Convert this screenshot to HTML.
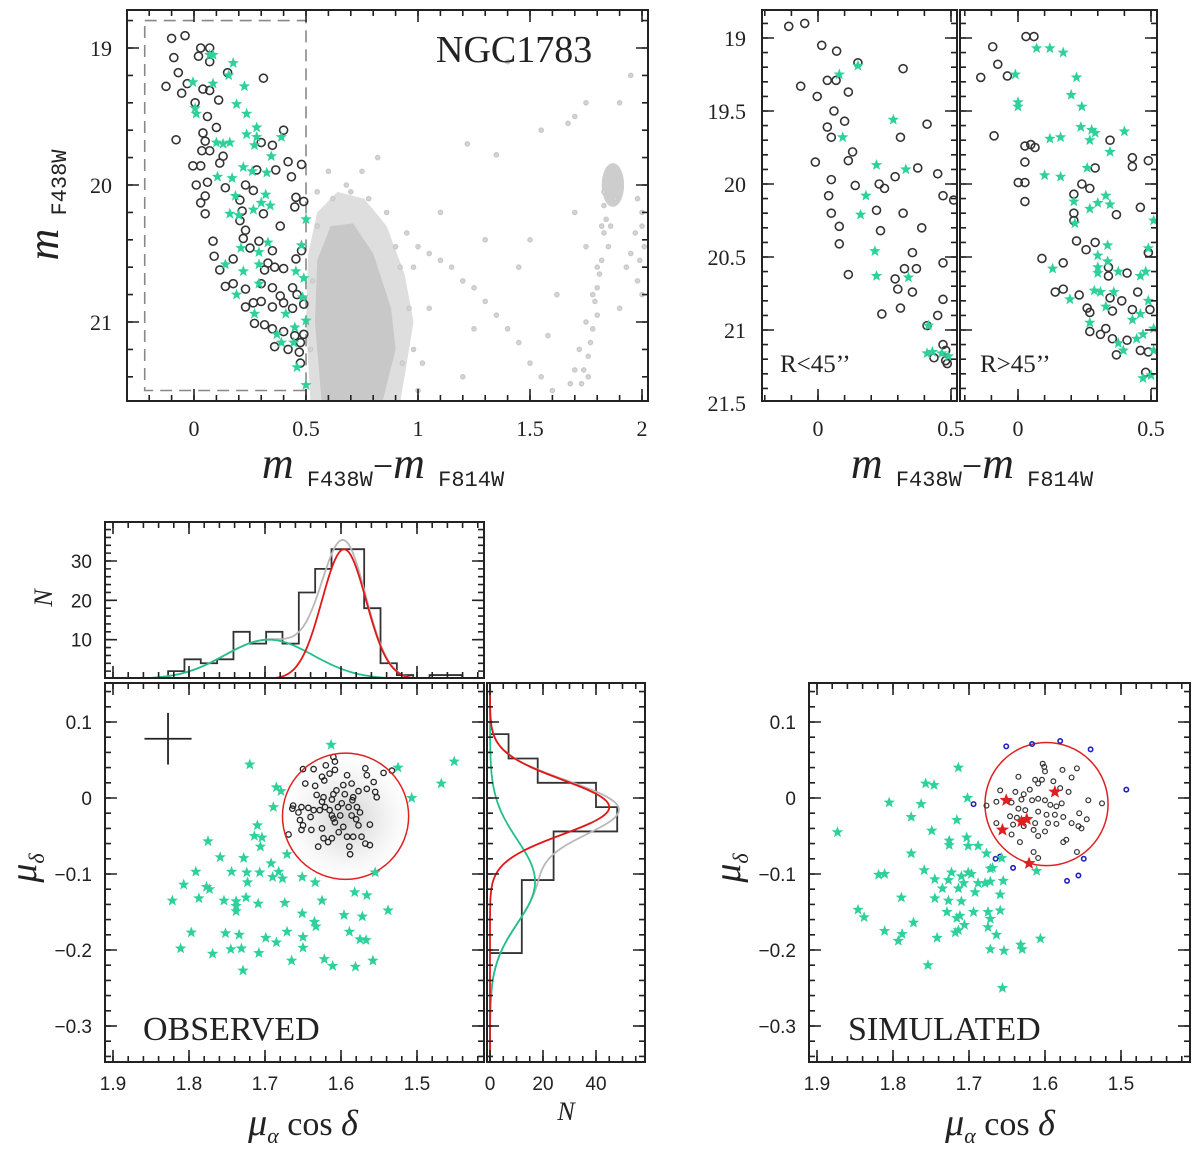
<!DOCTYPE html>
<html><head><meta charset="utf-8"><style>
html,body{margin:0;padding:0;background:#fff;}
svg{display:block;}
.ts{font-family:"Liberation Serif",serif;font-size:22px;fill:#222;}
.tb{font-family:"Liberation Sans",sans-serif;font-size:19px;fill:#222;}
.lab{font-family:"Liberation Serif",serif;fill:#222;}
</style></head><body>
<svg id="fig" width="1200" height="1149" viewBox="0 0 1200 1149" xmlns="http://www.w3.org/2000/svg">
<g id="g1"></g>
<g id="g2"></g>
<g id="g3"></g>
<g id="gh"></g>
<g id="gm"></g>
<g id="gr"></g>
<g id="gs"></g>
<g id="gt">
<text class="lab" x="436" y="62" font-size="38">NGC1783</text>
<text class="lab" transform="translate(58,205) rotate(-90)" text-anchor="middle"><tspan font-size="44" font-style="italic">m</tspan><tspan font-family="Liberation Mono" font-size="22" dy="8"> F438W</tspan></text>
<text class="lab" x="383" y="478" text-anchor="middle"><tspan font-size="44" font-style="italic">m</tspan><tspan font-family="Liberation Mono" font-size="22" dy="8"> F438W</tspan><tspan font-size="36" dy="-8">−</tspan><tspan font-size="44" font-style="italic">m</tspan><tspan font-family="Liberation Mono" font-size="22" dy="8"> F814W</tspan></text>
<text class="lab" x="972" y="478" text-anchor="middle"><tspan font-size="44" font-style="italic">m</tspan><tspan font-family="Liberation Mono" font-size="22" dy="8"> F438W</tspan><tspan font-size="36" dy="-8">−</tspan><tspan font-size="44" font-style="italic">m</tspan><tspan font-family="Liberation Mono" font-size="22" dy="8"> F814W</tspan></text>
<text class="lab" x="780" y="372" font-size="25">R&lt;45’’</text>
<text class="lab" x="980" y="372" font-size="25">R&gt;45’’</text>
<text class="lab" transform="translate(52,598) rotate(-90)" text-anchor="middle" font-size="26" font-style="italic">N</text>
<text class="lab" transform="translate(36,868) rotate(-90)" text-anchor="middle"><tspan font-size="38" font-style="italic">μ</tspan><tspan font-size="22" font-style="italic" dy="8">δ</tspan></text>
<text class="lab" transform="translate(740,868) rotate(-90)" text-anchor="middle"><tspan font-size="38" font-style="italic">μ</tspan><tspan font-size="22" font-style="italic" dy="8">δ</tspan></text>
<text class="lab" x="303" y="1135" text-anchor="middle"><tspan font-size="38" font-style="italic">μ</tspan><tspan font-size="22" font-style="italic" dy="8">α</tspan><tspan font-size="34" dy="-8">  cos  </tspan><tspan font-size="36" font-style="italic">δ</tspan></text>
<text class="lab" x="1000" y="1135" text-anchor="middle"><tspan font-size="38" font-style="italic">μ</tspan><tspan font-size="22" font-style="italic" dy="8">α</tspan><tspan font-size="34" dy="-8">  cos  </tspan><tspan font-size="36" font-style="italic">δ</tspan></text>
<text class="lab" x="566" y="1120" text-anchor="middle" font-size="26" font-style="italic">N</text>
<text class="lab" x="143" y="1040" font-size="34">OBSERVED</text>
<text class="lab" x="848" y="1040" font-size="34">SIMULATED</text>
</g>
</svg>
<script>
// ---------- DATA ----------
const cmdCircles=[[-0.10,18.93],[-0.04,18.91],[-0.09,19.07],[0.03,19.0],[0.07,19.0],[0.02,19.06],[0.07,19.10],[-0.07,19.18],[-0.125,19.28],[-0.055,19.33],[-0.03,19.26],[0.04,19.30],[0.07,19.31],[0.11,19.38],[0.15,19.18],[0.31,19.22],[0.005,19.40],[0.06,19.50],[0.10,19.58],[0.04,19.62],[-0.08,19.67],[0.05,19.68],[0.035,19.75],[0.07,19.75],[0.13,19.79],[0.115,19.84],[-0.005,19.86],[0.03,19.86],[0.01,20.0],[0.06,19.98],[0.14,20.02],[0.23,20.0],[0.265,20.04],[0.30,19.69],[0.35,19.71],[0.40,19.60],[0.28,19.89],[0.365,19.89],[0.42,19.83],[0.435,19.94],[0.48,19.85],[0.05,20.08],[0.03,20.13],[0.05,20.21],[0.205,20.11],[0.215,20.19],[0.205,20.26],[0.31,20.21],[0.385,20.30],[0.455,20.09],[0.49,20.12],[0.45,20.16],[0.23,20.33],[0.22,20.39],[0.085,20.41],[0.09,20.52],[0.115,20.62],[0.175,20.54],[0.25,20.46],[0.29,20.41],[0.35,20.48],[0.33,20.57],[0.36,20.60],[0.315,20.62],[0.40,20.61],[0.48,20.48],[0.455,20.54],[0.14,20.74],[0.175,20.72],[0.23,20.76],[0.30,20.72],[0.35,20.75],[0.44,20.75],[0.46,20.80],[0.23,20.89],[0.265,20.86],[0.30,20.85],[0.35,20.89],[0.385,20.81],[0.40,20.86],[0.44,20.90],[0.49,20.87],[0.27,21.01],[0.315,21.02],[0.35,21.05],[0.40,21.07],[0.36,21.18],[0.42,21.20],[0.45,21.10],[0.475,21.15],[0.47,21.22],[0.475,21.30],[0.49,21.09]];
const cmdStars=[[0.07,19.05],[0.085,19.05],[0.175,19.11],[0.155,19.20],[-0.005,19.25],[0.085,19.26],[0.225,19.28],[0.19,19.41],[0.005,19.44],[0.01,19.48],[0.235,19.48],[0.28,19.58],[0.235,19.63],[0.28,19.65],[0.27,19.71],[0.10,19.69],[0.13,19.70],[0.16,19.69],[0.39,19.65],[0.345,19.79],[0.22,19.87],[0.26,19.90],[0.325,19.91],[0.105,19.94],[0.17,19.95],[0.185,20.08],[0.32,20.07],[0.30,20.13],[0.34,20.15],[0.265,20.18],[0.16,20.21],[0.20,20.22],[0.50,20.25],[0.33,20.42],[0.21,20.46],[0.29,20.49],[0.48,20.44],[0.14,20.58],[0.22,20.63],[0.29,20.58],[0.455,20.63],[0.49,20.68],[0.29,20.72],[0.19,20.80],[0.485,20.82],[0.27,20.94],[0.41,20.94],[0.50,20.99],[0.37,21.09],[0.39,21.15],[0.45,21.04],[0.445,21.15],[0.46,21.33],[0.50,21.46]];
const fieldPts=[[0.95,20.35],[1.0,20.45],[1.05,20.5],[1.1,20.55],[1.15,20.6],[1.2,20.7],[1.25,20.75],[1.3,20.85],[1.35,20.95],[1.4,21.05],[1.45,21.15],[1.5,21.3],[1.55,21.4],[1.6,21.5],[1.22,19.7],[1.35,19.78],[1.4,19.1],[1.55,19.6],[1.67,19.55],[1.7,19.5],[1.75,19.4],[1.9,19.4],[1.95,19.2],[0.82,19.8],[0.75,19.9],[0.68,20.0],[0.6,19.9],[1.5,20.4],[1.7,20.2],[1.75,20.45],[1.8,20.6],[1.78,20.8],[1.75,21.0],[1.72,21.2],[1.7,21.35],[1.68,21.45],[1.82,20.3],[1.95,20.5],[2.0,20.3],[1.98,20.7],[1.9,20.9],[1.93,20.6],[1.62,20.8],[1.58,21.1],[1.3,20.4],[1.1,20.2],[1.05,20.9],[0.98,21.2],[1.0,21.5],[1.2,21.4],[1.25,21.05],[1.45,20.6],[1.84,20.25],[1.83,20.35],[1.85,20.45],[1.82,20.55],[1.81,20.65],[1.8,20.75],[1.79,20.85],[1.8,20.95],[1.78,21.05],[1.77,21.15],[1.76,21.25],[1.74,21.35],[1.73,21.45],[1.76,21.4],[1.98,20.1],[2.0,20.2],[1.97,20.35],[2.01,20.45],[1.99,20.55],[2.0,20.8],[0.92,20.6],[0.96,20.9],[0.93,21.3],[0.55,20.3],[0.53,20.7],[0.52,21.2],[1.83,20.15],[1.86,20.3],[1.88,20.1],[1.83,20.05],[0.62,20.1],[0.7,20.05],[0.78,20.1],[0.86,20.2],[0.55,20.05],[0.9,20.45],[0.98,20.6],[1.02,21.3]];
const msOuter=[[0.52,21.59],[0.5,21.0],[0.51,20.5],[0.55,20.2],[0.64,20.05],[0.76,20.1],[0.86,20.3],[0.94,20.65],[0.98,21.0],[0.95,21.3],[0.92,21.59]];
const msCore=[[0.57,21.59],[0.54,21.0],[0.55,20.55],[0.61,20.3],[0.71,20.28],[0.8,20.5],[0.88,20.9],[0.9,21.2],[0.84,21.59]];
const clump=[1.87,20.0,0.05,0.16];
const dashBox=[-0.22,18.8,0.5,21.5];
const inCircles=[[-0.11,18.92],[-0.05,18.90],[0.014,19.05],[0.07,19.09],[0.15,19.17],[0.32,19.21],[-0.065,19.33],[0.035,19.29],[0.068,19.29],[0.114,19.37],[-0.003,19.40],[0.06,19.50],[0.10,19.57],[0.035,19.61],[0.05,19.68],[0.31,19.68],[0.41,19.59],[0.13,19.78],[0.114,19.84],[-0.01,19.85],[0.05,19.97],[0.14,20.01],[0.23,20.0],[0.25,20.03],[0.29,19.95],[0.375,19.89],[0.45,19.93],[0.47,20.08],[0.51,20.11],[0.04,20.08],[0.05,20.20],[0.08,20.29],[0.08,20.41],[0.22,20.18],[0.235,20.32],[0.32,20.20],[0.39,20.30],[0.355,20.47],[0.325,20.58],[0.37,20.58],[0.29,20.65],[0.30,20.72],[0.355,20.74],[0.31,20.85],[0.24,20.89],[0.114,20.62],[0.47,20.54],[0.47,20.79],[0.45,20.90],[0.41,20.97],[0.47,21.10],[0.48,21.14],[0.436,21.19],[0.48,21.21],[0.486,21.23]];
const inStars=[[0.08,19.25],[0.15,19.19],[0.093,19.68],[0.283,19.56],[0.22,19.87],[0.33,19.90],[0.18,20.08],[0.16,20.21],[0.214,20.46],[0.22,20.63],[0.34,20.64],[0.415,20.97],[0.41,21.16],[0.43,21.15],[0.465,21.16],[0.49,21.18]];
const outCircles=[[0.03,18.99],[0.06,18.99],[-0.095,19.06],[-0.076,19.18],[-0.04,19.26],[-0.14,19.27],[-0.09,19.67],[0.026,19.74],[0.048,19.73],[0.064,19.75],[0.026,19.85],[0.001,19.99],[0.026,19.99],[0.026,20.12],[0.346,19.70],[0.43,19.82],[0.43,19.88],[0.49,19.84],[0.29,19.89],[0.24,20.0],[0.27,20.03],[0.21,20.07],[0.21,20.20],[0.21,20.25],[0.37,20.21],[0.46,20.16],[0.22,20.39],[0.29,20.40],[0.256,20.45],[0.49,20.47],[0.09,20.51],[0.17,20.54],[0.34,20.57],[0.34,20.63],[0.41,20.61],[0.14,20.74],[0.17,20.72],[0.23,20.76],[0.346,20.78],[0.39,20.80],[0.45,20.74],[0.496,20.86],[0.26,20.85],[0.27,20.88],[0.355,20.87],[0.43,20.86],[0.27,21.01],[0.31,21.03],[0.33,20.99],[0.355,21.06],[0.41,21.07],[0.46,21.14],[0.49,21.15],[0.37,21.17],[0.48,21.29]];
const outStars=[[0.07,19.07],[0.12,19.07],[0.17,19.10],[-0.01,19.25],[0.22,19.27],[0.20,19.39],[0.24,19.47],[0.0,19.44],[0.0,19.47],[0.236,19.61],[0.277,19.63],[0.29,19.65],[0.27,19.70],[0.12,19.69],[0.16,19.68],[0.40,19.64],[0.346,19.78],[0.26,19.89],[0.10,19.94],[0.16,19.95],[0.33,20.08],[0.30,20.13],[0.346,20.14],[0.27,20.17],[0.21,20.12],[0.214,20.27],[0.51,20.25],[0.337,20.42],[0.49,20.44],[0.30,20.49],[0.337,20.53],[0.30,20.57],[0.30,20.61],[0.377,20.60],[0.46,20.63],[0.48,20.60],[0.287,20.73],[0.31,20.74],[0.36,20.74],[0.13,20.58],[0.195,20.79],[0.49,20.80],[0.33,20.84],[0.46,20.89],[0.43,20.93],[0.27,20.95],[0.51,20.99],[0.377,21.09],[0.396,21.14],[0.446,21.06],[0.47,21.03],[0.47,21.33],[0.50,21.31],[0.51,21.14]];
// histograms
const raBinStart=1.8275, raBinWidth=0.0215;
const raCounts=[2,5,4,5,12,9,12,9,22,28,33,33,18,4,1,0,1,1];
const raFitGreen=[10,1.695,0.058];
const raFitRed=[33,1.596,0.029];
const decBinStart=0.084, decBinWidth=0.032;
const decCounts=[7,18,40,48,24,24,12,12,12];
const decFitRed=[45,-0.012,0.036];
const decFitGreen=[17,-0.11,0.055];
// observed PM
const obsCircle=[1.594,-0.024,0.083];
const errCross=[1.8276,0.078,0.031,0.034];
const obsStars=[[1.613,0.070],[1.720,0.044],[1.451,0.048],[1.525,0.040],[1.468,0.019],[1.507,0.0],[1.685,0.014],[1.679,0.009],[1.689,-0.012],[1.710,-0.036],[1.714,-0.050],[1.704,-0.052],[1.706,-0.064],[1.775,-0.057],[1.759,-0.078],[1.728,-0.079],[1.744,-0.097],[1.724,-0.098],[1.723,-0.111],[1.707,-0.098],[1.692,-0.086],[1.682,-0.097],[1.690,-0.104],[1.677,-0.106],[1.671,-0.074],[1.651,-0.104],[1.634,-0.111],[1.791,-0.097],[1.777,-0.117],[1.773,-0.120],[1.807,-0.114],[1.787,-0.132],[1.822,-0.135],[1.754,-0.135],[1.738,-0.136],[1.738,-0.142],[1.738,-0.149],[1.725,-0.131],[1.709,-0.139],[1.674,-0.138],[1.651,-0.152],[1.635,-0.163],[1.633,-0.169],[1.625,-0.135],[1.596,-0.154],[1.582,-0.124],[1.566,-0.128],[1.572,-0.156],[1.538,-0.148],[1.567,-0.187],[1.589,-0.176],[1.575,-0.186],[1.558,-0.214],[1.581,-0.222],[1.611,-0.221],[1.622,-0.212],[1.665,-0.214],[1.650,-0.197],[1.650,-0.183],[1.671,-0.176],[1.685,-0.190],[1.699,-0.184],[1.708,-0.204],[1.731,-0.198],[1.745,-0.199],[1.734,-0.180],[1.752,-0.178],[1.797,-0.177],[1.811,-0.198],[1.769,-0.205],[1.729,-0.227],[1.555,-0.098]];
const obsCircles=[[1.610,0.054],[1.608,0.048],[1.620,0.043],[1.636,0.038],[1.650,0.038],[1.608,0.037],[1.615,0.032],[1.625,0.028],[1.622,0.023],[1.647,0.019],[1.634,0.016],[1.568,0.039],[1.566,0.030],[1.544,0.033],[1.533,0.036],[1.557,0.021],[1.597,0.017],[1.586,0.019],[1.566,0.012],[1.555,0.008],[1.553,0.001],[1.577,0.009],[1.584,0.001],[1.606,0.010],[1.610,0.005],[1.612,-0.002],[1.623,0.001],[1.632,0.004],[1.625,-0.005],[1.621,-0.012],[1.636,-0.016],[1.643,-0.013],[1.652,-0.012],[1.663,-0.010],[1.664,-0.014],[1.656,-0.019],[1.640,-0.025],[1.628,-0.016],[1.615,-0.016],[1.612,-0.023],[1.601,-0.023],[1.599,-0.007],[1.590,-0.012],[1.585,-0.003],[1.579,-0.012],[1.575,-0.019],[1.586,-0.023],[1.608,-0.032],[1.610,-0.027],[1.654,-0.029],[1.650,-0.036],[1.652,-0.042],[1.625,-0.040],[1.597,-0.038],[1.577,-0.036],[1.562,-0.035],[1.623,-0.053],[1.612,-0.053],[1.592,-0.051],[1.584,-0.051],[1.573,-0.051],[1.562,-0.062],[1.568,-0.060],[1.589,-0.064],[1.588,-0.074],[1.630,-0.064],[1.669,-0.048],[1.639,-0.042],[1.617,-0.058],[1.595,0.005],[1.604,-0.012],[1.580,-0.028],[1.592,0.030],[1.603,-0.045]];
// simulated PM
const simCircle=[1.598,-0.008,0.081];
const simBlue=[[1.651,0.068],[1.617,0.071],[1.580,0.075],[1.540,0.064],[1.493,0.011],[1.694,-0.008],[1.665,-0.080],[1.659,-0.077],[1.642,-0.092],[1.571,-0.109],[1.556,-0.102],[1.549,-0.080]];
const simRed=[[1.651,-0.003],[1.656,-0.042],[1.631,-0.031],[1.624,-0.028],[1.587,0.008],[1.621,-0.086]];
const simStars=[[1.873,-0.045],[1.805,-0.006],[1.757,0.019],[1.746,0.017],[1.714,0.040],[1.763,-0.008],[1.702,0.000],[1.776,-0.025],[1.716,-0.029],[1.749,-0.043],[1.726,-0.056],[1.726,-0.062],[1.703,-0.052],[1.701,-0.063],[1.688,-0.063],[1.677,-0.073],[1.776,-0.073],[1.672,-0.093],[1.669,-0.092],[1.657,-0.079],[1.611,-0.096],[1.759,-0.095],[1.819,-0.101],[1.811,-0.100],[1.745,-0.107],[1.723,-0.098],[1.727,-0.108],[1.710,-0.103],[1.701,-0.098],[1.697,-0.100],[1.707,-0.112],[1.688,-0.112],[1.679,-0.112],[1.672,-0.110],[1.655,-0.109],[1.735,-0.119],[1.714,-0.119],[1.692,-0.124],[1.659,-0.127],[1.789,-0.131],[1.745,-0.132],[1.727,-0.135],[1.710,-0.136],[1.846,-0.147],[1.838,-0.157],[1.729,-0.150],[1.694,-0.150],[1.675,-0.150],[1.659,-0.148],[1.716,-0.158],[1.712,-0.155],[1.672,-0.159],[1.773,-0.164],[1.706,-0.167],[1.811,-0.175],[1.788,-0.179],[1.793,-0.188],[1.742,-0.184],[1.718,-0.177],[1.714,-0.174],[1.675,-0.170],[1.664,-0.180],[1.672,-0.199],[1.654,-0.201],[1.632,-0.193],[1.630,-0.199],[1.606,-0.185],[1.754,-0.220],[1.656,-0.250]];
const simCircles=[[1.603,0.045],[1.601,0.041],[1.600,0.035],[1.635,0.028],[1.613,0.024],[1.604,0.024],[1.577,0.037],[1.558,0.039],[1.565,0.027],[1.659,0.010],[1.639,0.008],[1.628,0.005],[1.620,0.011],[1.609,0.019],[1.589,0.022],[1.580,0.013],[1.569,0.008],[1.677,-0.010],[1.664,-0.005],[1.644,-0.006],[1.631,-0.002],[1.617,-0.003],[1.609,-0.001],[1.600,-0.003],[1.593,-0.009],[1.585,-0.011],[1.578,-0.007],[1.543,-0.003],[1.525,-0.007],[1.635,-0.014],[1.626,-0.016],[1.646,-0.024],[1.637,-0.026],[1.609,-0.018],[1.598,-0.022],[1.587,-0.022],[1.576,-0.025],[1.555,-0.020],[1.664,-0.033],[1.642,-0.035],[1.628,-0.037],[1.613,-0.033],[1.596,-0.033],[1.585,-0.034],[1.565,-0.033],[1.545,-0.028],[1.556,-0.037],[1.552,-0.040],[1.644,-0.048],[1.615,-0.042],[1.609,-0.050],[1.600,-0.044],[1.576,-0.058],[1.572,-0.055],[1.633,-0.058],[1.615,-0.071],[1.609,-0.079],[1.558,-0.071]];
// tick labels
const cmdXTicks=[0,0.5,1,1.5,2], cmdYTicks=[19,20,21];
const splitYTicks=[19,19.5,20,20.5,21,21.5], splitXTicks=[0,0.5];
const pmXTicks=[1.9,1.8,1.7,1.6,1.5], pmYTicks=[0.1,0,-0.1,-0.2,-0.3];
const histYTicks=[10,20,30], decHistXTicks=[0,20,40];

// ---------- HELPERS ----------
const NS='http://www.w3.org/2000/svg';
function lin(d0,p0,d1,p1){const k=(p1-p0)/(d1-d0);const f=function(v){return p0+(v-d0)*k;};f.inv=function(p){return d0+(p-p0)/k;};return f;}
function mk(tag,attrs,parent){const e=document.createElementNS(NS,tag);for(const k in attrs)e.setAttribute(k,String(attrs[k]));parent.appendChild(e);return e;}
// tick marks drawn as dashed strokes along each frame edge
function dashTicks(g,F,s,step,L,isX){
  const sp=Math.abs(s(step)-s(0));
  const w=1.6;
  const base=isX?F[0]:F[1];
  let off=(base-(s(0)-w/2))%sp; if(off<0)off+=sp;
  const sides=isX?[[F[0],F[3]-L/2,F[2],F[3]-L/2],[F[0],F[1]+L/2,F[2],F[1]+L/2]]:[[F[0]+L/2,F[1],F[0]+L/2,F[3]],[F[2]-L/2,F[1],F[2]-L/2,F[3]]];
  sides.forEach(sd=>{
    const e=mk('line',{x1:sd[0],y1:sd[1],x2:sd[2],y2:sd[3],stroke:'#222','stroke-width':L,'stroke-dasharray':w+' '+(sp-w),'stroke-dashoffset':off},g);
    
    
  });
}
function frame(g,F,sx,sy,xmaj,xmin,ymaj,ymin){
  const c=mk('clipPath',{id:'tc'+F[0]+'_'+F[1]},g);mk('rect',{x:F[0],y:F[1]+1,width:F[2]-F[0],height:F[3]-F[1]-2},c);
  const tg=mk('g',{'clip-path':'url(#tc'+F[0]+'_'+F[1]+')'},g);
  
  
  const cx=mk('clipPath',{id:'tx'+F[0]+'_'+F[1]},g);mk('rect',{x:F[0]+1,y:F[1],width:F[2]-F[0]-2,height:F[3]-F[1]},cx);
  const tgx=mk('g',{'clip-path':'url(#tx'+F[0]+'_'+F[1]+')'},g);
  
  
  dashTicks(tgx,F,sx,xmin,6,true);dashTicks(tgx,F,sx,xmaj,12,true);
  dashTicks(tg,F,sy,ymin,6,false);dashTicks(tg,F,sy,ymaj,12,false);
  const r=mk('rect',{x:F[0],y:F[1],width:F[2]-F[0],height:F[3]-F[1],fill:'none',stroke:'#222','stroke-width':2},g);
  
  
}
function starPath(cx,cy,R){let d='';for(let i=0;i<10;i++){const r=i%2?R*0.42:R;const a=-Math.PI/2+i*Math.PI/5;d+=(i?'L':'M')+(cx+r*Math.cos(a)).toFixed(1)+','+(cy+r*Math.sin(a)).toFixed(1);}return d+'Z';}
function stars(g,pts,sx,sy,R,col,name){const gg=mk('g',{fill:col},g);
  pts.forEach(p=>{const e=mk('path',{d:starPath(sx(p[0]),sy(p[1]),R)},gg);});}
function circles(g,pts,sx,sy,r,col,sw,name,fill){const gg=mk('g',{fill:fill||'none',stroke:col,'stroke-width':sw},g);
  pts.forEach(p=>{const e=mk('circle',{cx:sx(p[0]),cy:sy(p[1]),r:r},gg);});}
function label(g,x,y,txt,cls,anchor){const t=mk('text',{x:x,y:y,class:cls,'text-anchor':anchor},g);t.textContent=txt;}
function clip(g,F,id){const c=mk('clipPath',{id:id},g);mk('rect',{x:F[0],y:F[1],width:F[2]-F[0],height:F[3]-F[1]},c);const inner=mk('g',{'clip-path':'url(#'+id+')'},g);return inner;}
const gauss=(p,v)=>p[0]*Math.exp(-0.5*Math.pow((v-p[1])/p[2],2));
const fmt=v=>(Math.abs(v)<1e-9?'0':String(v).replace('-','−'));

// ---------- PANEL 1: CMD ----------
(function(){
 const g=document.getElementById('g1');const F=[127,10,648,401];
 const sx=lin(0,194,1,418), sy=lin(19,48,20,185);
 const a=clip(g,F,'c1');
 const poly=(arr,fill,name)=>{const e=mk('polygon',{points:arr.map(p=>sx(p[0])+','+sy(p[1])).join(' '),fill:fill},a);};
 poly(msOuter,'#dedede','main-sequence-halo');poly(msCore,'#c8c8c8','main-sequence-core');
 const cl=mk('ellipse',{cx:sx(clump[0]),cy:sy(clump[1]),rx:sx(clump[0]+clump[2])-sx(clump[0]),ry:sy(clump[1]+clump[3])-sy(clump[1]),fill:'#cdcdcd'},a);
 
 circles(a,fieldPts,sx,sy,2.2,'#c8c8c8',1.2,'field-stars','#d4d4d4');
 const db=mk('rect',{x:sx(dashBox[0]),y:sy(dashBox[1]),width:sx(dashBox[2])-sx(dashBox[0]),height:sy(dashBox[3])-sy(dashBox[1]),fill:'none',stroke:'#888','stroke-width':1.6,'stroke-dasharray':'12,7'},a);
 
 circles(a,cmdCircles,sx,sy,4,'#333',1.6,'cluster-stars-circles');
 stars(a,cmdStars,sx,sy,6,'#2fd19a','cluster-stars-green');
 frame(g,F,sx,sy,0.5,0.1,1,0.2);
 cmdXTicks.forEach(v=>label(g,sx(v),436,fmt(v),'ts','middle'));
 cmdYTicks.forEach(v=>label(g,112,sy(v)+8,fmt(v),'ts','end'));
})();
// ---------- PANELS 2/3 ----------
function split(id,F,x0px,cP,sP,clipId){
 const g=document.getElementById(id);
 const sx=lin(0,x0px,0.5,x0px+133), sy=lin(19,38,21,330);
 const a=clip(g,F,clipId);
 circles(a,cP,sx,sy,4,'#333',1.6,'circle-points');
 stars(a,sP,sx,sy,6,'#2fd19a','green-star-points');
 frame(g,F,sx,sy,0.5,0.1,0.5,0.1);
 splitXTicks.forEach(v=>label(g,sx(v),436,fmt(v),'ts','middle'));
 return sy;
}
const syS=split('g2',[762,10,957,401],818,inCircles,inStars,'c2');
split('g3',[960,10,1157,401],1018,outCircles,outStars,'c3');
splitYTicks.forEach(v=>label(document.getElementById('g2'),746,syS(v)+8,fmt(v),'ts','end'));

// ---------- BOTTOM LEFT ----------
const pmSx=lin(1.9,113,1.5,417), pmSy=lin(0,798,0.1,722);
(function(){
 const g=document.getElementById('gh');const F=[105,522,484,678];
 const sy=lin(0,679,30,561);
 const a=clip(g,F,'ch');
 let d='M'+pmSx(raBinStart)+','+sy(0);
 raCounts.forEach((c,i)=>{const x0=pmSx(raBinStart-i*raBinWidth),x1=pmSx(raBinStart-(i+1)*raBinWidth);d+='L'+x0+','+sy(c)+'L'+x1+','+sy(c);});
 d+='L'+pmSx(raBinStart-raCounts.length*raBinWidth)+','+sy(0);
 const h=mk('path',{d:d,fill:'none',stroke:'#333','stroke-width':1.8},a);
 const curve=(fn,col,name,w)=>{let dd='';for(let px=F[0];px<=F[2];px+=2){const v=pmSx.inv(px);dd+=(dd?'L':'M')+px+','+sy(fn(v)).toFixed(1);}const e=mk('path',{d:dd,fill:'none',stroke:col,'stroke-width':w},a);};
 curve(v=>gauss(raFitGreen,v)+gauss(raFitRed,v),'#b8b8b8','ra-total-fit',1.8);
 curve(v=>gauss(raFitGreen,v),'#22c08a','ra-field-fit',1.8);
 curve(v=>gauss(raFitRed,v),'#e01818','ra-cluster-fit',1.8);
 frame(g,F,pmSx,sy,0.1,0.02,10,2);
 histYTicks.forEach(v=>label(g,92,sy(v)+7,fmt(v),'tb','end'));
})();
(function(){
 const g=document.getElementById('gm');const F=[105,683,484,1062];
 const a=clip(g,F,'cm');
 const defs=mk('defs',{},g);const rg=mk('radialGradient',{id:'cloud'},defs);
 mk('stop',{offset:'0','stop-color':'#c4c4c4','stop-opacity':'0.8'},rg);mk('stop',{offset:'0.5','stop-color':'#dcdcdc','stop-opacity':'0.5'},rg);mk('stop',{offset:'1','stop-color':'#f0f0f0','stop-opacity':'0'},rg);
 const cx=pmSx(obsCircle[0]),cy=pmSy(obsCircle[1]),R=pmSx(obsCircle[0]-obsCircle[2])-cx;
 const cl=mk('ellipse',{cx:cx+2,cy:cy+2,rx:R*1.05,ry:R*1.05,fill:'url(#cloud)'},a);
 circles(a,obsCircles,pmSx,pmSy,2.7,'#222',1.3,'cluster-members');
 const c=mk('circle',{cx:cx,cy:cy,r:R,fill:'none',stroke:'#e02020','stroke-width':1.5},a);
 stars(a,obsStars,pmSx,pmSy,6,'#2fd19a','field-stars');
 const ex=pmSx(errCross[0]),ey=pmSy(errCross[1]);
 const eg=mk('g',{stroke:'#222','stroke-width':1.8},a);
 mk('line',{x1:pmSx(errCross[0]+errCross[2]),y1:ey,x2:pmSx(errCross[0]-errCross[2]),y2:ey},eg);
 mk('line',{x1:ex,y1:pmSy(errCross[1]+errCross[3]),x2:ex,y2:pmSy(errCross[1]-errCross[3])},eg);
 frame(g,F,pmSx,pmSy,0.1,0.02,0.1,0.02);
 pmXTicks.forEach(v=>label(g,pmSx(v),1090,fmt(v),'tb','middle'));
 pmYTicks.forEach(v=>label(g,92,pmSy(v)+7,fmt(v),'tb','end'));
})();
(function(){
 const g=document.getElementById('gr');const F=[487,683,645,1062];
 const sx=lin(0,490,40,596);
 const a=clip(g,F,'cr');
 let d='M'+sx(0)+','+pmSy(decBinStart);
 decCounts.forEach((c,i)=>{const y0=pmSy(decBinStart-i*decBinWidth),y1=pmSy(decBinStart-(i+1)*decBinWidth);d+='L'+sx(c)+','+y0+'L'+sx(c)+','+y1;});
 d+='L'+sx(0)+','+pmSy(decBinStart-decCounts.length*decBinWidth);
 const h=mk('path',{d:d,fill:'none',stroke:'#333','stroke-width':1.8},a);
 const curve=(fn,col,name)=>{let dd='';for(let py=F[1];py<=F[3];py+=2){const v=pmSy.inv(py);dd+=(dd?'L':'M')+sx(fn(v)).toFixed(1)+','+py;}const e=mk('path',{d:dd,fill:'none',stroke:col,'stroke-width':1.8},a);};
 curve(v=>gauss(decFitRed,v)+gauss(decFitGreen,v),'#b8b8b8','dec-total-fit');
 curve(v=>gauss(decFitGreen,v),'#22c08a','dec-field-fit');
 curve(v=>gauss(decFitRed,v),'#e01818','dec-cluster-fit');
 frame(g,F,sx,pmSy,20,5,0.1,0.02);
 decHistXTicks.forEach(v=>label(g,sx(v),1090,fmt(v),'tb','middle'));
})();
// ---------- SIMULATED ----------
(function(){
 const g=document.getElementById('gs');const F=[809,683,1190,1062];
 const sx=lin(1.9,817,1.5,1121);
 const a=clip(g,F,'cs');
 const cx=sx(simCircle[0]),cy=pmSy(simCircle[1]),R=sx(simCircle[0]-simCircle[2])-cx;
 const c=mk('circle',{cx:cx,cy:cy,r:R,fill:'none',stroke:'#e02020','stroke-width':1.5},a);
 circles(a,simCircles,sx,pmSy,2.4,'#333',1.2,'simulated-members');
 circles(a,simBlue,sx,pmSy,2.2,'#2020c0',1.6,'simulated-outliers');
 stars(a,simStars,sx,pmSy,6,'#2fd19a','simulated-field-stars');
 stars(a,simRed,sx,pmSy,7,'#e02020','simulated-contaminants');
 frame(g,F,sx,pmSy,0.1,0.02,0.1,0.02);
 pmXTicks.forEach(v=>label(g,sx(v),1090,fmt(v),'tb','middle'));
 pmYTicks.forEach(v=>label(g,796,pmSy(v)+7,fmt(v),'tb','end'));
})();
</script>
</body></html>
